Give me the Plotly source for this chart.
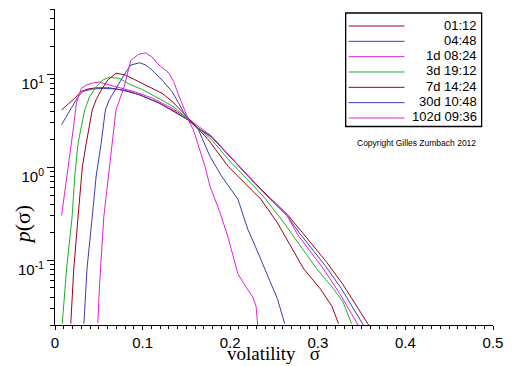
import plotly.graph_objects as go

# ---------------- data ----------------
series_names = ["01:12", "04:48", "1d 08:24", "3d 19:12", "7d 14:24", "30d 10:48", "102d 09:36"]
series_colors = ["#a00018", "#4040b8", "#e020e0", "#20b020", "#a00018", "#3c3cb0", "#e020e0"]

x_0112 = [0.0075, 0.015, 0.0226, 0.030, 0.0376, 0.047, 0.062, 0.077, 0.096, 0.1185, 0.137, 0.152,
          0.1637, 0.1787, 0.2, 0.2164, 0.235, 0.246, 0.265, 0.28, 0.295, 0.310, 0.329, 0.345, 0.358]
y_0112 = [4.1, 4.7, 5.5, 6.5, 6.9, 7.1, 7.1, 6.7, 6.0, 4.9, 3.95, 3.2,
          2.6, 2.1, 1.28, 0.88, 0.58, 0.46, 0.31, 0.21, 0.14, 0.095, 0.054, 0.031, 0.02]

x_0448 = [0.0075, 0.017, 0.0263, 0.032, 0.043, 0.055, 0.07, 0.085, 0.1, 0.12, 0.137, 0.152,
          0.164, 0.1787, 0.2, 0.2164, 0.235, 0.265, 0.279, 0.3085, 0.327, 0.352]
y_0448 = [2.85, 4.1, 5.7, 6.5, 6.9, 7.0, 6.9, 6.5, 5.8, 4.8, 3.9, 3.2,
          2.6, 2.12, 1.28, 0.87, 0.57, 0.30, 0.195, 0.087, 0.049, 0.02]

x_1d = [0.0075, 0.011, 0.015, 0.0207, 0.0245, 0.030, 0.0357, 0.043, 0.0508, 0.058, 0.0734, 0.092,
        0.111, 0.1335, 0.156, 0.1787, 0.2, 0.2164, 0.235, 0.265, 0.2765, 0.3066, 0.3254, 0.346]
y_1d = [0.30, 0.55, 1.0, 2.5, 4.9, 7.0, 7.6, 8.0, 8.2, 7.8, 7.1, 6.4,
        5.5, 4.3, 3.1, 2.15, 1.3, 0.87, 0.57, 0.30, 0.19, 0.08, 0.043, 0.02]

x_3d = [0.0083, 0.0132, 0.0195, 0.0226, 0.0263, 0.0339, 0.0395, 0.047, 0.0545, 0.062, 0.0734, 0.0846,
        0.0997, 0.111, 0.126, 0.1373, 0.1486, 0.16, 0.1787, 0.2012, 0.22, 0.239, 0.2615, 0.2802,
        0.299, 0.318, 0.329, 0.3386]
y_3d = [0.0207, 0.08, 0.29, 0.80, 1.8, 4.1, 5.7, 7.3, 8.6, 9.2, 9.0, 7.8,
        6.8, 6.0, 5.0, 4.3, 3.5, 2.8, 1.97, 1.11, 0.73, 0.47, 0.25, 0.142,
        0.080, 0.049, 0.035, 0.0207]

x_7d = [0.018, 0.0214, 0.0263, 0.0312, 0.0357, 0.0425, 0.047, 0.0527, 0.0602, 0.0696, 0.08, 0.092,
        0.107, 0.1222, 0.1335, 0.1448, 0.1543, 0.163, 0.175, 0.1975, 0.2164, 0.235, 0.254, 0.269,
        0.284, 0.3028, 0.316, 0.3236]
y_7d = [0.0207, 0.08, 0.29, 1.0, 1.8, 4.1, 5.3, 6.7, 8.6, 10.2, 9.8, 8.6,
        7.4, 6.2, 5.1, 4.0, 3.2, 2.6, 1.97, 1.02, 0.68, 0.45, 0.25, 0.142,
        0.080, 0.049, 0.032, 0.0207]

x_30d = [0.033, 0.0365, 0.0425, 0.047, 0.0527, 0.0575, 0.062, 0.0696, 0.079, 0.0865, 0.0967, 0.1035,
         0.111, 0.1222, 0.1335, 0.141, 0.1486, 0.156, 0.1637, 0.1769, 0.19, 0.2088, 0.22, 0.2314,
         0.2427, 0.254, 0.2622]
y_30d = [0.0207, 0.08, 0.29, 0.80, 1.8, 4.1, 5.3, 7.0, 9.8, 12.5, 13.2, 12.5,
         11.0, 8.6, 6.5, 4.9, 3.6, 2.97, 2.52, 1.30, 0.80, 0.45, 0.215, 0.122,
         0.068, 0.038, 0.0207]

x_102d = [0.0489, 0.0508, 0.0557, 0.0621, 0.0696, 0.079, 0.0865, 0.095, 0.103, 0.1106, 0.1185, 0.1298,
          0.1354, 0.141, 0.1467, 0.1524, 0.158, 0.1656, 0.1712, 0.1769, 0.1825, 0.1881, 0.1975,
          0.2032, 0.2088, 0.2182, 0.2257, 0.2295, 0.2314]
y_102d = [0.021, 0.053, 0.29, 1.0, 4.1, 7.3, 14.0, 16.2, 16.9, 15.3, 12.5, 10.3,
          8.3, 6.0, 4.3, 3.2, 2.5, 1.54, 1.02, 0.62, 0.45, 0.33, 0.176,
          0.111, 0.071, 0.051, 0.040, 0.032, 0.02]

series_x = [x_0112, x_0448, x_1d, x_3d, x_7d, x_30d, x_102d]
series_y = [y_0112, y_0448, y_1d, y_3d, y_7d, y_30d, y_102d]

x_tickvals = [0, 0.1, 0.2, 0.3, 0.4, 0.5]
x_ticktext = ["0", "0.1", "0.2", "0.3", "0.4", "0.5"]
y_tickvals = [0.1, 1, 10]
y_ticktext = ["10<sup>-1</sup>", "10<sup>0</sup>", "10<sup>1</sup>"]

x_title = "volatility\u00a0\u00a0\u00a0σ"
y_title = "<i>p</i>(σ)"
copyright_text = "Copyright Gilles Zumbach 2012"

# ---------------- layout geometry (pixels) ----------------
W, H = 512, 366
L, R, T, B = 55, 14, 9, 41
PW, PH = W - L - R, H - T - B


def px(xp):
    return (xp - L) / PW


def py(yp):
    return (H - B - yp) / PH


fig = go.Figure()
for xs, ys, name, col in zip(series_x, series_y, series_names, series_colors):
    fig.add_trace(go.Scatter(x=xs, y=ys, mode="lines", name=name,
                             line=dict(color=col, width=1), showlegend=False))

shapes = [dict(type="rect", xref="paper", yref="paper",
               x0=px(349), x1=px(486.5), y0=py(126.5), y1=py(13),
               line=dict(color="black", width=1.3), fillcolor="rgba(0,0,0,0)")]
annotations = []
for i, (name, col) in enumerate(zip(series_names, series_colors)):
    yy = 26 + 15.33 * i
    shapes.append(dict(type="line", xref="paper", yref="paper",
                       x0=px(352), x1=px(408.5), y0=py(yy), y1=py(yy),
                       line=dict(color=col, width=1)))
    annotations.append(dict(xref="paper", yref="paper", x=px(484), y=py(yy - 1),
                            text=name, showarrow=False, xanchor="right", yanchor="middle",
                            font=dict(family="Liberation Sans", size=13, color="black")))

annotations.append(dict(xref="paper", yref="paper", x=px(421), y=py(143), text=copyright_text,
                        showarrow=False, xanchor="center", yanchor="middle",
                        font=dict(family="Liberation Sans", size=8.5, color="black")))
annotations.append(dict(xref="paper", yref="paper", x=px(276), y=py(366), text=x_title,
                        showarrow=False, xanchor="center", yanchor="bottom",
                        font=dict(family="Liberation Serif", size=19, color="black")))
annotations.append(dict(xref="paper", yref="paper", x=px(22), y=py(224), text=y_title,
                        showarrow=False, xanchor="center", yanchor="middle", textangle=-90,
                        font=dict(family="Liberation Serif", size=22, color="black")))

y_minor = [m * 10 ** e for e in (-2, -1, 0, 1) for m in range(2, 10) if 0.0199 <= m * 10 ** e <= 50.1]

fig.update_layout(
    width=W, height=H,
    margin=dict(l=L, r=R, t=T, b=B, pad=0),
    paper_bgcolor="white", plot_bgcolor="white",
    shapes=shapes, annotations=annotations,
    showlegend=False,
    xaxis=dict(range=[0, 0.5], tickvals=x_tickvals, ticktext=x_ticktext,
               showline=True, linecolor="black", linewidth=1,
               ticks="outside", ticklen=4, tickcolor="black", tickwidth=1,
               showgrid=False, zeroline=False,
               minor=dict(dtick=0.01, ticks="outside", ticklen=3, tickcolor="black", showgrid=False),
               tickfont=dict(family="Liberation Sans", size=15, color="black")),
    yaxis=dict(type="log", range=[-1.69897, 1.69897], tickvals=y_tickvals, ticktext=y_ticktext,
               showline=True, linecolor="black", linewidth=1,
               ticks="outside", ticklen=7, tickcolor="black", tickwidth=1,
               showgrid=False, zeroline=False, ticklabelshift=10,
               minor=dict(tickvals=y_minor, ticks="outside", ticklen=4, tickcolor="black", showgrid=False),
               tickfont=dict(family="Liberation Sans", size=15, color="black")),
)

fig.write_html("out.html", config={"displayModeBar": False},
               post_script="document.body.style.margin='0';document.body.style.padding='0';")
